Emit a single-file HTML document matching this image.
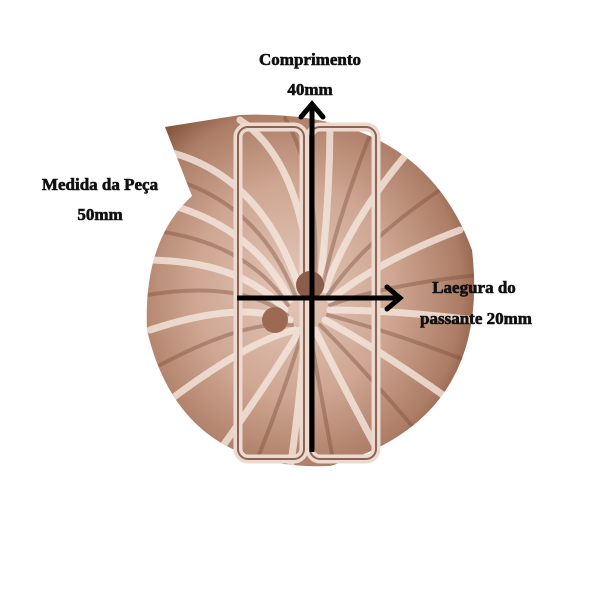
<!DOCTYPE html>
<html><head><style>
html,body{margin:0;padding:0;background:#fff;width:600px;height:600px;overflow:hidden}
.t{font-family:"Liberation Serif",serif;font-weight:bold;font-size:17px;fill:#111;stroke:#111;stroke-width:0.6}
</style></head><body>
<svg width="600" height="600" viewBox="0 0 600 600">
<defs>
<radialGradient id="g" cx="0.45" cy="0.5" r="0.6">
<stop offset="0" stop-color="#e3c7b9"/>
<stop offset="0.5" stop-color="#cfa793"/>
<stop offset="0.85" stop-color="#ad7d66"/>
<stop offset="1" stop-color="#85553f"/>
</radialGradient>
<clipPath id="c"><path d="M165,127 L240,115 Q420,108 472,250 Q492,420 330,466 Q180,472 147,330 Q143,240 192,196 Z"/></clipPath>
</defs>
<path d="M165,127 L240,115 Q420,108 472,250 Q492,420 330,466 Q180,472 147,330 Q143,240 192,196 Z" fill="url(#g)"/>
<g clip-path="url(#c)" fill="none" stroke-width="7" stroke-linecap="round">
<g stroke="#f6e8df" opacity="0.8">
<path d="M160,150 Q260,170 300,290"/><path d="M150,200 Q250,220 290,300"/><path d="M145,260 Q240,260 285,310"/>
<path d="M150,330 Q240,300 290,320"/><path d="M170,400 Q250,340 295,330"/><path d="M240,120 Q300,160 310,280"/>
<path d="M330,120 Q330,200 320,285"/><path d="M410,150 Q350,220 325,290"/><path d="M460,230 Q380,260 330,300"/>
<path d="M475,320 Q390,310 330,310"/><path d="M450,400 Q380,350 325,320"/><path d="M380,455 Q340,380 315,330"/>
<path d="M290,470 Q300,400 305,335"/><path d="M220,450 Q270,380 300,330"/>
</g>
<g stroke="#7a4c3a" opacity="0.4" stroke-width="4">
<path d="M155,175 Q255,195 295,295"/><path d="M147,230 Q245,240 288,305"/><path d="M147,295 Q240,280 287,315"/>
<path d="M160,365 Q245,320 292,325"/><path d="M285,118 Q320,180 315,282"/><path d="M372,130 Q340,210 322,288"/>
<path d="M440,190 Q365,240 328,295"/><path d="M478,275 Q385,285 330,305"/><path d="M465,360 Q385,330 328,315"/>
<path d="M420,435 Q360,365 320,325"/><path d="M335,470 Q320,390 310,333"/><path d="M255,465 Q285,390 302,333"/>
</g>
</g>
<rect x="238" y="127" width="66" height="332" rx="10" fill="none" stroke="#ecdad1" stroke-width="9"/>
<rect x="238" y="127" width="66" height="332" rx="10" fill="none" stroke="#8d6452" stroke-width="2"/>
<rect x="310" y="127" width="66" height="332" rx="10" fill="none" stroke="#ecdad1" stroke-width="9"/>
<rect x="310" y="127" width="66" height="332" rx="10" fill="none" stroke="#8d6452" stroke-width="2"/>
<circle cx="310" cy="285" r="14" fill="#8a5d4a"/>
<circle cx="275" cy="320" r="13" fill="#9c6a52"/>
<line x1="312" y1="452" x2="312" y2="106" stroke="#000" stroke-width="5"/>
<polyline points="301,117 312,104 323,117" fill="none" stroke="#000" stroke-width="5" stroke-linecap="round"/>
<line x1="237" y1="298" x2="398" y2="298" stroke="#000" stroke-width="5"/>
<polyline points="387,287 400,298 387,309" fill="none" stroke="#000" stroke-width="5" stroke-linecap="round"/>
<text class="t" x="310" y="65" text-anchor="middle">Comprimento</text>
<text class="t" x="310" y="95" text-anchor="middle">40mm</text>
<text class="t" x="100" y="190" text-anchor="middle">Medida da Peça</text>
<text class="t" x="100" y="220" text-anchor="middle">50mm</text>
<text class="t" x="474" y="293" text-anchor="middle">Laegura do</text>
<text class="t" x="476" y="324" text-anchor="middle">passante 20mm</text>
</svg>
</body></html>
